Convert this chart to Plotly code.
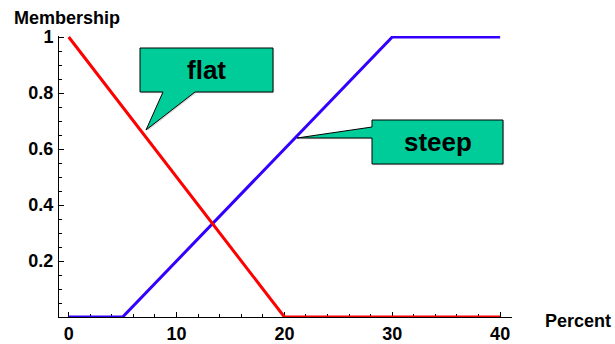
import plotly.graph_objects as go

# Data
flat_x = [0, 20, 40]
flat_y = [1, 0, 0]
steep_x = [0, 5, 30, 40]
steep_y = [0, 0, 1, 1]
x_ticks = [0, 10, 20, 30, 40]
y_ticks = [0.2, 0.4, 0.6, 0.8, 1]
y_tick_text = ["0.2", "0.4", "0.6", "0.8", "1"]

W, H = 615, 344
L, R, T, B = 59, 103, 36, 27
PW, PH = W - L - R, H - T - B
XR = [-0.9, 41.1]
YR = [0, 1.0036]

def dx(px):
    return XR[0] + (px - L) / PW * (XR[1] - XR[0])

def dy(py):
    return YR[0] + (T + PH - py) / PH * (YR[1] - YR[0])

def path(points):
    s = "M " + " L ".join(f"{dx(a):.4f},{dy(b):.4f}" for a, b in points) + " Z"
    return s

FONT = "Liberation Sans, Arial, sans-serif"
GREEN = "#00CC99"

fig = go.Figure()
fig.add_trace(go.Scatter(x=steep_x, y=steep_y, mode="lines",
                         line=dict(color="#3300FF", width=3), cliponaxis=False,
                         hoverinfo="skip", showlegend=False))
fig.add_trace(go.Scatter(x=flat_x, y=flat_y, mode="lines",
                         line=dict(color="#FF0000", width=3), cliponaxis=False,
                         hoverinfo="skip", showlegend=False))

flat_pts = [(140, 48), (273, 48), (273, 92), (195, 92), (146, 130), (163, 92), (140, 92)]
steep_pts = [(372, 120), (503, 120), (503, 164), (372, 164), (372, 138), (297, 138), (372, 127)]

shapes = []
for pts in (flat_pts, steep_pts):
    sh = [(a + 1.2, b + 1.2) for a, b in pts]
    shapes.append(dict(type="path", xref="x", yref="y", path=path(sh),
                       fillcolor="rgba(0,0,0,0.15)", line=dict(width=0), layer="above"))
    shapes.append(dict(type="path", xref="x", yref="y", path=path(pts),
                       fillcolor=GREEN, line=dict(color="black", width=1), layer="above"))

bold = dict(family=FONT, color="black", weight="bold")
annotations = [
    dict(x=dx(206.5), y=dy(70), xref="x", yref="y", text="flat", showarrow=False,
         font=dict(size=26, **bold), xanchor="center", yanchor="middle"),
    dict(x=dx(437.5), y=dy(142), xref="x", yref="y", text="steep", showarrow=False,
         font=dict(size=26, **bold), xanchor="center", yanchor="middle"),
    dict(x=12, y=18, xref="paper", yref="paper", text="Membership", showarrow=False,
         font=dict(size=18, **bold), xanchor="left", yanchor="middle"),
    dict(x=613, y=321, xref="paper", yref="paper", text="Percent", showarrow=False,
         font=dict(size=18, **bold), xanchor="right", yanchor="middle"),
]
# convert pixel positions to paper fractions
for a in annotations[2:]:
    a["x"] = (a["x"] - L) / PW
    a["y"] = (T + PH - a["y"]) / PH

fig.update_layout(
    width=W, height=H,
    margin=dict(l=L, r=R, t=T, b=B, pad=0),
    plot_bgcolor="white", paper_bgcolor="white",
    shapes=shapes, annotations=annotations,
    font=dict(family=FONT, size=18, color="black"),
    xaxis=dict(range=XR, automargin=False, showgrid=False, zeroline=False, showline=True,
               linecolor="black", linewidth=1, ticks="inside", ticklen=5,
               tickcolor="black", tickwidth=1, tickvals=x_ticks,
               tickfont=dict(size=18, **bold),
               ticklabelstandoff=0, layer="below traces",
               minor=dict(dtick=2, tick0=0, ticks="inside", ticklen=3,
                          tickcolor="black", showgrid=False)),
    yaxis=dict(range=YR, automargin=False, showgrid=False, zeroline=False, showline=True,
               linecolor="black", linewidth=1, ticks="inside", ticklen=5,
               tickcolor="black", tickwidth=1, tickvals=y_ticks, ticktext=y_tick_text,
               tickfont=dict(size=18, **bold),
               ticklabelstandoff=1, layer="below traces",
               minor=dict(dtick=0.05, tick0=0, ticks="inside", ticklen=3,
                          tickcolor="black", showgrid=False)),
)

fig.write_html("out.html", config={"displayModeBar": False},
               post_script="document.body.style.margin='0px';")
